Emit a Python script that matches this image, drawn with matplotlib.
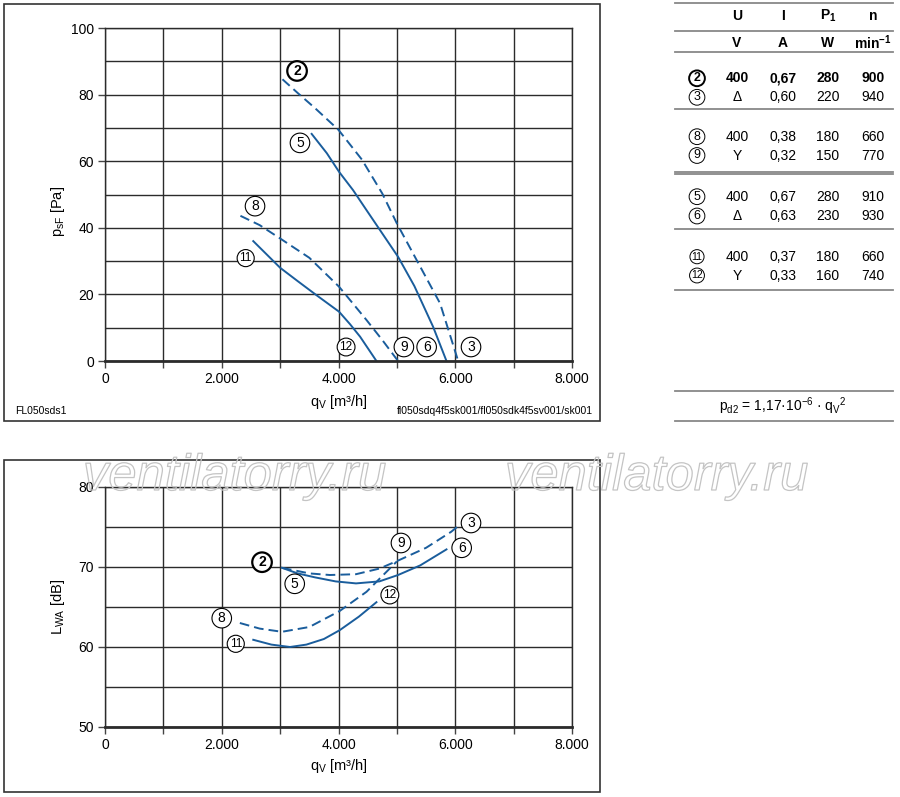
import numpy as np
import matplotlib
matplotlib.use('Agg')
import matplotlib.pyplot as plt
from matplotlib.lines import Line2D
from matplotlib.patches import Rectangle
from matplotlib.ticker import MultipleLocator, FixedLocator
import matplotlib.patheffects as pe

plt.rcParams['font.family'] = ['Liberation Sans', 'DejaVu Sans']
plt.rcParams['mathtext.fontset'] = 'custom'
plt.rcParams['mathtext.rm'] = 'Liberation Sans'
plt.rcParams['mathtext.it'] = 'Liberation Sans:italic'
plt.rcParams['mathtext.bf'] = 'Liberation Sans:bold'

# pressure curves (q in m3/h, p in Pa)
q_p23 = [3040, 3300, 3600, 4000, 4400, 4750, 5000, 5370, 5740, 6050]
p_p23 = [84.6, 80.5, 75.9, 69.4, 60.5, 50.3, 41.3, 29.3, 17.3, 0]
q_p56 = [3540, 3800, 4010, 4250, 4480, 4750, 5020, 5300, 5620, 5850]
p_p56 = [68.2, 62.4, 56.8, 51.3, 45.3, 38.3, 31.3, 22.5, 10.3, 0]
q_p89 = [2320, 2650, 3000, 3500, 4010, 4480, 4750, 5020]
p_p89 = [43.6, 40.8, 36.8, 31.0, 22.3, 12.3, 6.3, 0]
q_p1112 = [2540, 3000, 3300, 3620, 4010, 4200, 4370, 4650]
p_p1112 = [36.0, 28.0, 24.0, 19.8, 14.8, 11.0, 7.3, 0]

# sound power curves, bottom chart (q in m3/h, L in dB)
q_l23 = [3030, 3500, 3850, 4300, 4700, 5020, 5500, 5930, 6030]
l_l23 = [69.9, 69.2, 69.0, 69.1, 69.8, 70.8, 72.4, 74.4, 75.0]
q_l56 = [3030, 3300, 3600, 3950, 4300, 4700, 5020, 5400, 5850]
l_l56 = [69.9, 69.2, 68.7, 68.2, 67.95, 68.2, 69.0, 70.2, 72.2]
q_l89 = [2310, 2650, 3030, 3500, 4020, 4480, 5000]
l_l89 = [63.0, 62.3, 61.9, 62.5, 64.5, 66.9, 70.7]
q_l1112 = [2540, 2850, 3170, 3450, 3750, 4020, 4350, 4650]
l_l1112 = [60.9, 60.3, 60.0, 60.3, 61.0, 62.1, 63.8, 65.6]

# circled curve labels: (text, q, value)
labels_p = [('2', 3290, 87.1), ('5', 3340, 65.5), ('8', 2570, 46.5), ('11', 2410, 30.9),
            ('12', 4130, 4.2), ('9', 5120, 4.2), ('6', 5510, 4.2), ('3', 6270, 4.2)]
labels_l = [('2', 2690, 70.6), ('5', 3250, 67.9), ('8', 2000, 63.6), ('11', 2240, 60.4),
            ('12', 4880, 66.5), ('9', 5070, 73.0), ('6', 6110, 72.4), ('3', 6270, 75.5)]

x_ticks = [0, 2000, 4000, 6000, 8000]
x_tick_labels = ['0', '2.000', '4.000', '6.000', '8.000']

# table on the right
tab_ids = ['2', '3', '8', '9', '5', '6', '11', '12']
tab_u = ['400', '\u0394', '400', 'Y', '400', '\u0394', '400', 'Y']
tab_i = ['0,67', '0,60', '0,38', '0,32', '0,67', '0,63', '0,37', '0,33']
tab_p = ['280', '220', '180', '150', '280', '230', '180', '160']
tab_n = ['900', '940', '660', '770', '910', '930', '660', '740']

blue = '#1a5d9c'
grid_c = '#2b2b2b'

fig = plt.figure(figsize=(9, 7.97), dpi=100)


def fx(px):
    return px / 900


def fy(py):
    return 1 - py / 797


def circled(ax, txt, x, y, bold=False, size=10):
    ax.text(x, y, txt, ha='center', va='center', fontsize=size if len(txt) == 1 else size - 1.5,
            fontweight='bold' if bold else 'normal', zorder=5,
            bbox=dict(boxstyle='circle,pad=0.2', fc='white', ec='black', lw=1.6 if bold else 0.8))


def style_axes(ax, ymax, ymin, ystep_grid, ystep_lab):
    ax.set_xlim(0, 8000)
    ax.set_ylim(ymin, ymax)
    ax.xaxis.set_major_locator(FixedLocator(x_ticks))
    ax.set_xticklabels(x_tick_labels)
    ax.xaxis.set_minor_locator(MultipleLocator(1000))
    ax.yaxis.set_major_locator(MultipleLocator(ystep_lab))
    ax.yaxis.set_minor_locator(MultipleLocator(ystep_grid))
    ax.tick_params(which='major', direction='out', length=5, width=1, color='#444', labelsize=10, pad=3)
    ax.tick_params(axis='x', which='minor', direction='out', length=5, width=1, color='#444')
    ax.tick_params(axis='y', which='minor', length=0)
    ax.grid(which='both', color=grid_c, lw=1.0)
    ax.set_axisbelow(True)
    for s in ax.spines.values():
        s.set_color(grid_c)
        s.set_linewidth(1.0)
    ax.spines['bottom'].set_linewidth(2.0)


# top chart
ax1 = fig.add_axes([fx(105), fy(361), fx(572) - fx(105), fy(28) - fy(361)])
style_axes(ax1, 100, 0, 10, 20)
ax1.plot(q_p23, p_p23, color=blue, lw=1.4, ls=(0, (5, 2.6)))
ax1.plot(q_p56, p_p56, color=blue, lw=1.4)
ax1.plot(q_p89, p_p89, color=blue, lw=1.4, ls=(0, (5, 2.6)))
ax1.plot(q_p1112, p_p1112, color=blue, lw=1.4)
for t, x, y in labels_p:
    circled(ax1, t, x, y, bold=(t == '2'))
ax1.set_xlabel(r'q$_\mathrm{V}$ [m³/h]', fontsize=10.5)
ax1.set_ylabel(r'p$_\mathrm{sF}$ [Pa]', fontsize=10.5)
ax1.xaxis.set_label_coords(0.5, -0.095)
ax1.yaxis.set_label_coords(-0.082, 0.45)

# bottom chart
ax2 = fig.add_axes([fx(105), fy(727), fx(572) - fx(105), fy(487) - fy(727)])
style_axes(ax2, 80, 50, 5, 10)
ax2.plot(q_l23, l_l23, color=blue, lw=1.4, ls=(0, (5, 2.6)))
ax2.plot(q_l56, l_l56, color=blue, lw=1.4)
ax2.plot(q_l89, l_l89, color=blue, lw=1.4, ls=(0, (5, 2.6)))
ax2.plot(q_l1112, l_l1112, color=blue, lw=1.4)
for t, x, y in labels_l:
    circled(ax2, t, x, y, bold=(t == '2'))
ax2.set_xlabel(r'q$_\mathrm{V}$ [m³/h]', fontsize=10.5)
ax2.set_ylabel(r'L$_\mathrm{WA}$ [dB]', fontsize=10.5)
ax2.xaxis.set_label_coords(0.5, -0.125)
ax2.yaxis.set_label_coords(-0.082, 0.5)

# panel frames
fig.add_artist(Rectangle((fx(4), fy(421)), fx(599.5) - fx(4), fy(3.5) - fy(421),
                         transform=fig.transFigure, fill=False, ec='#333', lw=1.2))
fig.add_artist(Rectangle((fx(4), fy(792)), fx(599.5) - fx(4), fy(459.5) - fy(792),
                         transform=fig.transFigure, fill=False, ec='#333', lw=1.2))

fig.text(fx(15), fy(411), 'FL050sds1', fontsize=7.5, va='center', ha='left')
fig.text(fx(593), fy(411), 'fl050sdq4f5sk001/fl050sdk4f5sv001/sk001', fontsize=7.5,
         va='center', ha='right')

# table
def hline(py, c='#888', lw=1.3):
    fig.add_artist(Line2D([fx(675), fx(893)], [fy(py), fy(py)], transform=fig.transFigure,
                          color=c, lw=lw))


for py in [3.3, 31, 52.3, 109.3, 171.7, 174, 229, 290, 390.7, 420.7]:
    hline(py)

col_x = [697, 737, 783, 828, 873]
hs = 10
fig.text(fx(col_x[1]), fy(16), 'U', ha='center', va='center', fontsize=hs, fontweight='bold')
fig.text(fx(col_x[2]), fy(16), 'I', ha='center', va='center', fontsize=hs, fontweight='bold')
fig.text(fx(col_x[3]), fy(16), r'$\mathbf{P_1}$', ha='center', va='center', fontsize=hs)
fig.text(fx(col_x[4]), fy(16), 'n', ha='center', va='center', fontsize=hs, fontweight='bold')
fig.text(fx(col_x[1]), fy(42.7), 'V', ha='center', va='center', fontsize=hs, fontweight='bold')
fig.text(fx(col_x[2]), fy(42.7), 'A', ha='center', va='center', fontsize=hs, fontweight='bold')
fig.text(fx(col_x[3]), fy(42.7), 'W', ha='center', va='center', fontsize=hs, fontweight='bold')
fig.text(fx(col_x[4]), fy(42.7), r'min$^{\mathbf{-1}}$', ha='center', va='center', fontsize=hs,
         fontweight='bold')

row_y = [78.3, 97.3, 136.7, 155.5, 196.7, 216, 256.7, 275.5]
for k, py in enumerate(row_y):
    bold = (k == 0)
    fw = 'bold' if bold else 'normal'
    fig.text(fx(col_x[0]), fy(py), tab_ids[k], ha='center', va='center',
             fontsize=9 if len(tab_ids[k]) == 1 else 7.5, fontweight=fw,
             bbox=dict(boxstyle='circle,pad=0.15', fc='white', ec='black', lw=1.4 if bold else 0.7))
    for c, vals in zip(col_x[1:], [tab_u, tab_i, tab_p, tab_n]):
        fig.text(fx(c), fy(py), vals[k], ha='center', va='center', fontsize=hs, fontweight=fw)

fig.text(fx(783), fy(406),
         r'p$_\mathrm{d2}$ = 1,17·10$^\mathrm{-6}$ · q$_\mathrm{V}$$^\mathrm{2}$',
         ha='center', va='center', fontsize=10)

# watermark
for wx in [83, 505]:
    fig.text(fx(wx), fy(490), 'ventilatorry.ru', fontsize=36.5, style='italic',
             color=(1, 1, 1, 0), va='baseline', ha='left', zorder=10,
             path_effects=[pe.Stroke(linewidth=0.9, foreground='#c4c4c4')])

fig.savefig('out.png', dpi=100)
